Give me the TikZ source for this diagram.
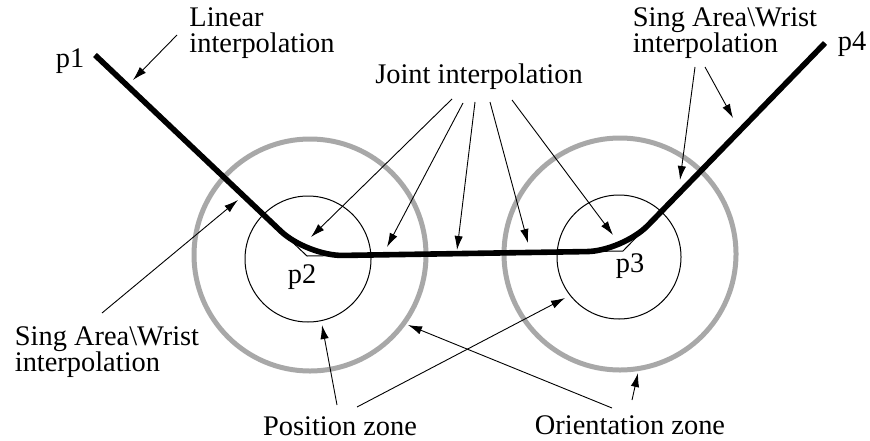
\documentclass[tikz,border=0pt]{standalone}
\usepackage{fontspec}
\setmainfont{Liberation Serif}
\usetikzlibrary{positioning,arrows.meta,calc}
\definecolor{ink}{HTML}{000000}
\definecolor{zonegray}{HTML}{A8A8A8}

\tikzset{
  txt/.style={inner sep=0pt, align=left, color=ink},
  pointer/.style={-{Latex[length=7pt,width=4.2pt]}, line width=0.45pt, draw=ink},
  outerzone/.style={draw=zonegray, line width=2.5pt},
  innerzone/.style={draw=ink, line width=0.5pt}
}

\begin{document}
\begin{tikzpicture}[x=0.5pt, y=0.5pt, font=\fontsize{14.2}{13}\selectfont]
\useasboundingbox (0,0) rectangle (870,440);

% Zones round p2 and p3
\draw[outerzone] (310,185) circle (116);
\draw[innerzone] (308,181) circle (63);
\draw[outerzone] (620,186) circle (116);
\draw[innerzone] (619,183) circle (62);

% Programmed corners and executed path
\coordinate (p1) at (95,385);
\coordinate (p2) at (307,184);
\coordinate (p3) at (623,189);
\coordinate (p4) at (825,397);
\draw[ink, line width=0.5pt] (p1) -- (p2) -- (p3) -- (p4);
\draw[ink, line width=2.8pt, rounded corners=18pt] (p1) -- (p2) -- (p3) -- (p4);

% Point names
\node[txt] (p1lbl) at (70,379) {p1};
\node[txt] (p2lbl) at (302,163) {p2};
\node[txt] (p3lbl) at (630,174) {p3};
\node[txt] (p4lbl) at (852,396) {p4};

% Labels
\node[txt] (linear) at (262,407) {Linear\\interpolation};
\node[txt] (joint) at (479,363) {Joint interpolation};
\node[txt] (singl) at (107,88) {Sing Area\textbackslash Wrist\\interpolation};
\node[txt] (singr) at (725,407) {Sing Area\textbackslash Wrist\\interpolation};
\node[txt] (poszone) at (340,14) {Position zone};
\node[txt] (orizone) at (630,15) {Orientation zone};

% Arrow tips
\coordinate (linT) at (133,360);
\coordinate (j1T) at (311,203);
\coordinate (j2T) at (387,193);
\coordinate (j3T) at (457,190);
\coordinate (j4T) at (528,197);
\coordinate (j5T) at (613,205);
\coordinate (slT) at (238,240);
\coordinate (sr1T) at (680,260);
\coordinate (sr2T) at (733,322);
\coordinate (pz1T) at (322,115);
\coordinate (pz2T) at (565,142);
\coordinate (oz1T) at (408,115);
\coordinate (oz2T) at (638,67);

% Callout arrows
\draw[pointer] (177,405) -- (linT);
\draw[pointer] (452,341) -- (j1T);
\draw[pointer] (463,337) -- (j2T);
\draw[pointer] (475,338) -- (j3T);
\draw[pointer] (490,338) -- (j4T);
\draw[pointer] (512,340) -- (j5T);
\draw[pointer] (102,127) -- (slT);
\draw[pointer] (695,373) -- (sr1T);
\draw[pointer] (705,373) -- (sr2T);
\draw[pointer] (337,35) -- (pz1T);
\draw[pointer] (357,33) -- (pz2T);
\draw[pointer] (612,32) -- (oz1T);
\draw[pointer] (632,40) -- (oz2T);

\end{tikzpicture}
\end{document}
